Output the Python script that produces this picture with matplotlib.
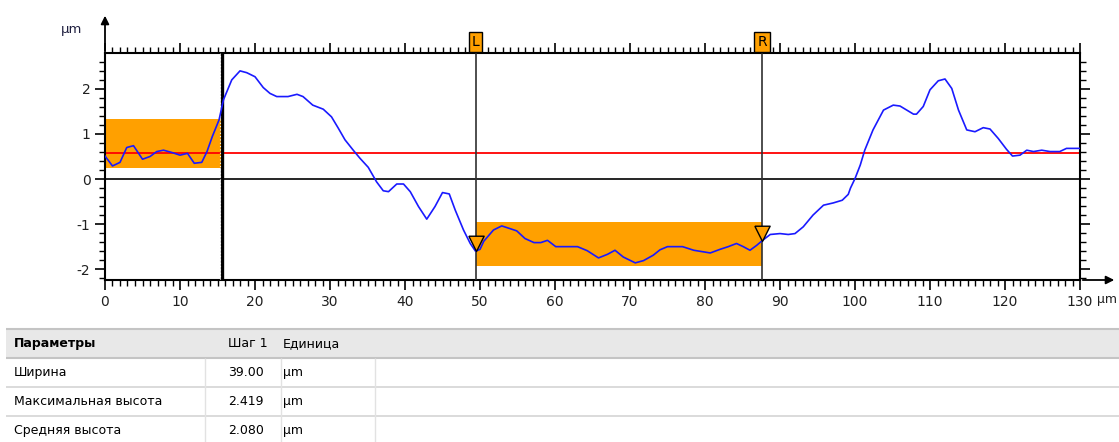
import numpy as np
import matplotlib.pyplot as plt
from matplotlib.ticker import MultipleLocator
from matplotlib.patches import Rectangle
from matplotlib.transforms import blended_transform_factory

plt.rcParams['font.family'] = ['DejaVu Sans']
plt.rcParams['axes.unicode_minus'] = False

# profile (µm)
x_um = [0.0, 1.0, 2.0, 2.9, 3.8, 4.2, 5.0, 6.0, 6.9, 7.8, 8.9, 10.0, 11.0, 11.9, 12.9,
        13.6, 14.3, 15.2, 15.8, 16.9, 18.0, 18.9, 20.0, 21.1, 22.0, 22.9, 24.4, 25.6,
        26.4, 27.7, 29.1, 30.2, 31.1, 32.0, 33.1, 34.0, 35.1, 36.2, 37.1, 37.8, 38.9,
        39.8, 40.7, 41.8, 42.9, 44.0, 45.0, 45.9, 46.7, 47.8, 48.7, 49.4, 50.0, 50.5,
        51.8, 52.9, 54.0, 54.9, 56.0, 57.2, 58.1, 59.0, 60.1, 61.2, 63.0, 64.3, 65.8,
        67.0, 68.0, 69.1, 70.7, 71.8, 73.1, 74.0, 75.0, 77.0, 78.5, 80.7, 82.0, 83.1,
        84.2, 85.1, 86.0, 86.9, 87.6, 88.7, 90.0, 91.1, 92.0, 93.1, 94.4, 95.8, 97.1,
        98.3, 99.1, 99.4, 100.0, 100.7, 101.3, 102.4, 103.8, 105.1, 106.0, 106.9,
        107.8, 108.2, 109.1, 110.0, 111.1, 112.0, 112.9, 113.8, 114.9, 116.0, 117.1,
        118.0, 119.1, 120.2, 121.0, 122.0, 122.9, 123.8, 124.9, 126.0, 127.3, 128.2, 130.0]
z_um = [0.51, 0.29, 0.37, 0.70, 0.74, 0.64, 0.44, 0.50, 0.61, 0.64, 0.59, 0.53, 0.57, 0.35, 0.37,
        0.61, 0.94, 1.31, 1.76, 2.20, 2.40, 2.36, 2.27, 2.03, 1.90, 1.83, 1.83, 1.88,
        1.83, 1.64, 1.55, 1.38, 1.13, 0.87, 0.64, 0.46, 0.26, -0.06, -0.26, -0.28, -0.11,
        -0.11, -0.28, -0.61, -0.89, -0.61, -0.30, -0.33, -0.69, -1.13, -1.43, -1.60, -1.56, -1.38,
        -1.13, -1.04, -1.10, -1.15, -1.32, -1.41, -1.41, -1.36, -1.50, -1.50, -1.50, -1.59, -1.75,
        -1.67, -1.58, -1.73, -1.86, -1.81, -1.69, -1.57, -1.50, -1.50, -1.58, -1.64, -1.56, -1.50,
        -1.43, -1.50, -1.58, -1.47, -1.37, -1.23, -1.21, -1.23, -1.21, -1.06, -0.80, -0.58, -0.53,
        -0.47, -0.34, -0.20, 0.01, 0.31, 0.64, 1.09, 1.53, 1.64, 1.62, 1.53,
        1.44, 1.44, 1.61, 1.98, 2.18, 2.22, 2.01, 1.53, 1.09, 1.05, 1.14,
        1.11, 0.90, 0.66, 0.51, 0.53, 0.64, 0.61, 0.64, 0.61, 0.61, 0.68, 0.68]

mean_line = 0.57
ref_x = [0.0, 15.4]        # reference band
ref_z = [0.24, 1.33]
cursor_L = 49.4
cursor_R = 87.6
meas_z = [-1.93, -0.95]    # measured band

param_names = ['Ширина', 'Максимальная высота', 'Средняя высота']
step1_values = ['39.00', '2.419', '2.080']
units = ['µm', 'µm', 'µm']
header = ['Параметры', 'Шаг 1', 'Единица']

orange = '#FFA000'

fig = plt.figure(figsize=(11.19, 4.42), dpi=100)
ax = fig.add_axes([105 / 1119, 162 / 442, 975 / 1119, 226.7 / 442])

ax.fill_between(ref_x, ref_z[0], ref_z[1], color=orange, lw=0, zorder=1)
ax.fill_between([cursor_L, cursor_R], meas_z[0], meas_z[1], color=orange, lw=0, zorder=1)

ax.axhline(0, color='black', lw=1.2, zorder=2)
ax.axhline(mean_line, color='#ff0000', lw=1.3, zorder=2)

ax.axvline(ref_x[1] + 0.15, color='black', lw=2.4, zorder=3)
ax.axvline(ref_x[1] - 0.05, color='white', lw=0.8, ls=(0, (1, 2)), zorder=4)
ax.axvline(cursor_L, color='#303030', lw=1.2, zorder=3)
ax.axvline(cursor_R, color='#303030', lw=1.2, zorder=3)

ax.plot(x_um, z_um, color='#1a1aff', lw=1.2, zorder=5)

# cursor markers, tip on the profile
tri = [(-1, 2), (1, 2), (0, 0), (-1, 2)]
for cx in (cursor_L, cursor_R):
    ax.plot([cx], [np.interp(cx, x_um, z_um)], marker=tri, ms=22, mfc=orange,
            mec='black', mew=1, zorder=6, clip_on=False)

trans = blended_transform_factory(ax.transData, ax.transAxes)
for cx, lab in ((cursor_L, 'L'), (cursor_R, 'R')):
    ax.text(cx, 1.05, lab, transform=trans, ha='center', va='center', fontsize=10,
            bbox=dict(boxstyle='square,pad=0.22', fc=orange, ec='black', lw=1),
            clip_on=False, zorder=7)

ax.set_xlim(0, 130)
ax.set_ylim(-2.24, 2.79)
ax.set_xticks(range(0, 131, 10))
ax.set_yticks([-2, -1, 0, 1, 2])
ax.xaxis.set_minor_locator(MultipleLocator(1))
ax.yaxis.set_minor_locator(MultipleLocator(0.2))
ax.tick_params(which='major', direction='out', length=7.5, width=1.2, top=True, right=True,
               labelsize=10, labelcolor='#202020', pad=3)
ax.tick_params(which='minor', direction='out', length=4, width=1, top=True, right=True)
for s in ax.spines.values():
    s.set_linewidth(1.5)

# axis arrows
ax.annotate('', xy=(0, 1.178), xytext=(0, 1.0), xycoords='axes fraction',
            arrowprops=dict(arrowstyle='-|>', color='black', lw=1.3, mutation_scale=12))
ax.annotate('', xy=(1.038, 0), xytext=(1.0, 0), xycoords='axes fraction',
            arrowprops=dict(arrowstyle='-|>', color='black', lw=1.3, mutation_scale=12))
fig.text(72 / 1119, 1 - 30 / 442, 'µm', ha='center', va='center', fontsize=9.5, color='#202040')
fig.text(1117 / 1119, 1 - 299 / 442, 'µm', ha='right', va='center', fontsize=9, color='#202020')

# parameter table
tax = fig.add_axes([0, 0, 1, 122 / 442])
tax.set_xlim(0, 1119)
tax.set_ylim(442, 320)
tax.axis('off')
tax.add_patch(Rectangle((6, 329), 1113, 29, fc='#e8e8e8', ec='none'))
tax.hlines([329, 358], 6, 1119, color='#c4c4c4', lw=1.5)
tax.hlines([387, 416], 6, 1119, color='#d4d4d4', lw=1.2)
tax.vlines([205, 281, 375], 358, 442, color='#e2e2e2', lw=1.0)
col_x = [14, 228, 283]
tax.text(col_x[0], 343.5, header[0], fontsize=9, fontweight='bold', va='center')
tax.text(col_x[1], 343.5, header[1], fontsize=9, va='center')
tax.text(col_x[2], 343.5, header[2], fontsize=9, va='center')
for i, (n, v, u) in enumerate(zip(param_names, step1_values, units)):
    y = 372.5 + 29 * i
    tax.text(col_x[0], y, n, fontsize=9, va='center')
    tax.text(col_x[1], y, v, fontsize=9, va='center')
    tax.text(col_x[2], y, u, fontsize=9, va='center')

fig.savefig('out.png', dpi=100)
